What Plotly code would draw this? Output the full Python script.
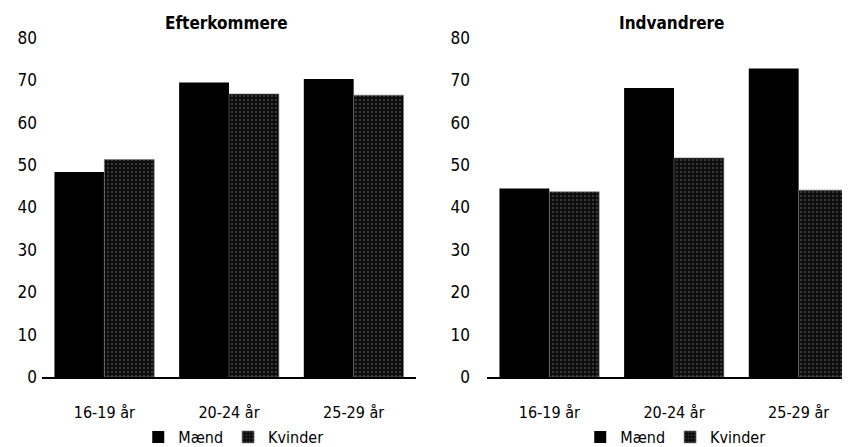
import plotly.graph_objects as go

categories = ["16-19 år", "20-24 år", "25-29 år"]
efter_maend = [48.4, 69.5, 70.3]
efter_kvinder = [51.3, 66.8, 66.5]
indv_maend = [44.5, 68.2, 72.8]
indv_kvinder = [43.7, 51.7, 44.1]
titles = ["Efterkommere", "Indvandrere"]
yticks = [0, 10, 20, 30, 40, 50, 60, 70, 80]

FONT = "DejaVu Sans Condensed, Open Sans, sans-serif"
pattern = dict(shape=".", fgcolor="#dddddd", bgcolor="#0d0d0d", size=4, solidity=0.12)

fig = go.Figure()
fig.add_bar(x=categories, y=efter_maend, name="Mænd", marker=dict(color="#000000", line=dict(width=0)),
            xaxis="x", yaxis="y", legend="legend")
fig.add_bar(x=categories, y=efter_kvinder, name="Kvinder",
            marker=dict(color="#0d0d0d", pattern=pattern, line=dict(width=0.6, color="#777777")),
            xaxis="x", yaxis="y", legend="legend")
fig.add_bar(x=categories, y=indv_maend, name="Mænd", marker=dict(color="#000000", line=dict(width=0)),
            xaxis="x2", yaxis="y2", legend="legend2")
fig.add_bar(x=categories, y=indv_kvinder, name="Kvinder",
            marker=dict(color="#0d0d0d", pattern=pattern, line=dict(width=0.6, color="#777777")),
            xaxis="x2", yaxis="y2", legend="legend2")

xcommon = dict(showline=True, linecolor="#000000", linewidth=1.5, ticks="", showgrid=False,
               tickfont=dict(family=FONT, size=16, color="#000"), zeroline=False,
               ticklabelstandoff=20)
ycommon = dict(range=[0, 80], tickvals=yticks, showline=False, showgrid=False, zeroline=False,
               ticks="", tickfont=dict(family=FONT, size=17, color="#000"))

title_y = (369 - 15) / 339
legend_y = (369 - 429) / 339

fig.update_layout(
    width=850, height=447,
    margin=dict(l=0, r=0, t=30, b=78),
    paper_bgcolor="white", plot_bgcolor="white",
    barmode="group", bargap=0.2, bargroupgap=0,
    font=dict(family=FONT, size=16, color="#000"),
    xaxis=dict(domain=[0.04, 0.48], range=[-0.5, 2.5], anchor="y", **xcommon),
    yaxis=dict(domain=[0, 1], anchor="x", ticklabelstandoff=4, **ycommon),
    xaxis2=dict(domain=[0.5635, 1.0], range=[-0.5, 2.476], anchor="y2", **xcommon),
    yaxis2=dict(domain=[0, 1], anchor="x2", ticklabelstandoff=16, **ycommon),
    legend=dict(orientation="h", x=0.265, xanchor="center", y=legend_y, yanchor="middle",
                font=dict(family=FONT, size=16), itemwidth=30,
                bgcolor="rgba(0,0,0,0)"),
    legend2=dict(orientation="h", x=0.785, xanchor="center", y=legend_y, yanchor="middle",
                 font=dict(family=FONT, size=16), itemwidth=30,
                 bgcolor="rgba(0,0,0,0)"),
    annotations=[
        dict(text="<b>" + titles[0] + "</b>", x=0.2565, y=title_y, xref="paper", yref="paper",
             xanchor="center", yanchor="middle", showarrow=False, font=dict(family=FONT, size=17)),
        dict(text="<b>" + titles[1] + "</b>", x=0.781, y=title_y, xref="paper", yref="paper",
             xanchor="center", yanchor="middle", showarrow=False, font=dict(family=FONT, size=17)),
    ],
)

fig.write_html("out.html")
